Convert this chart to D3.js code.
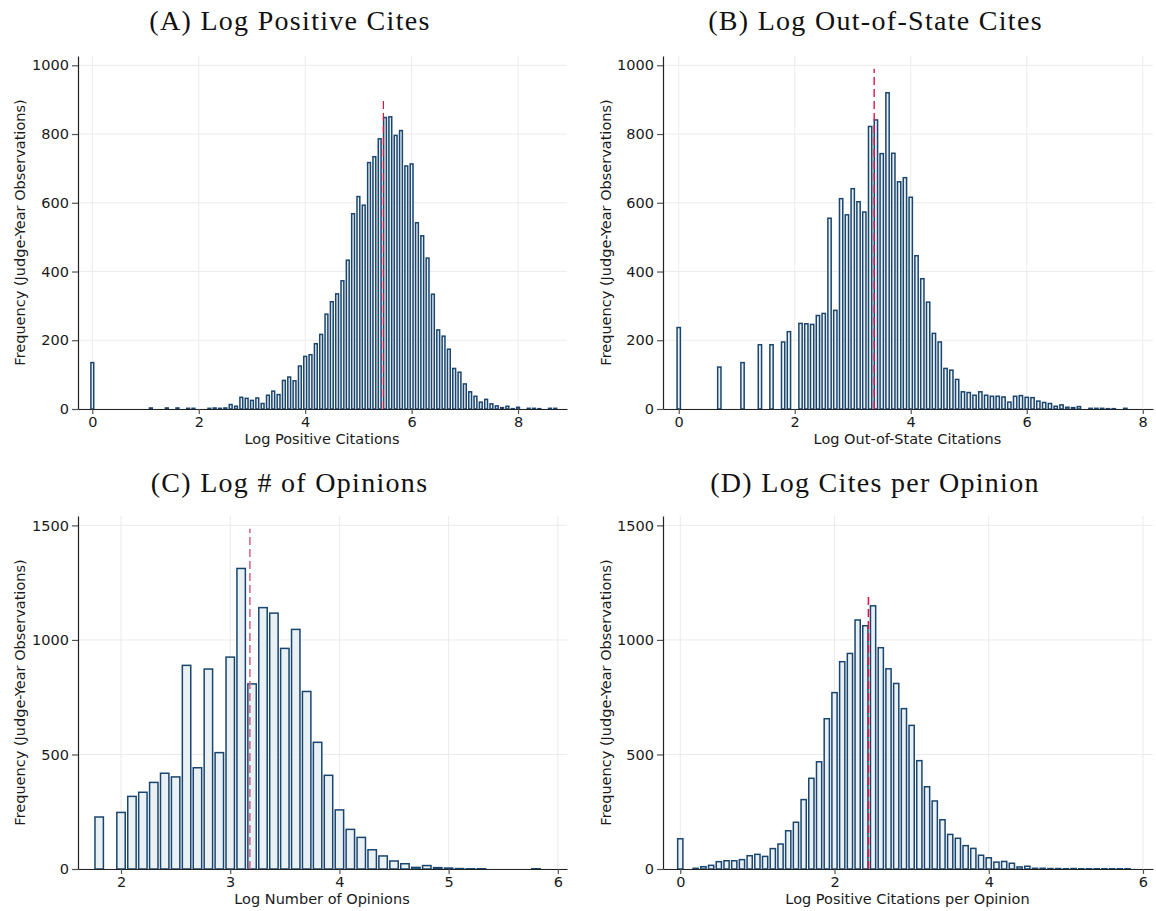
<!DOCTYPE html>
<html>
<head>
<meta charset="utf-8">
<script src="https://cdn.jsdelivr.net/npm/d3@7"></script>
<style>
  html, body { margin: 0; padding: 0; background: #fff; }
  svg { display: block; }
  .tick text { font-family: "DejaVu Sans", sans-serif; font-size: 14.5px; fill: #1a1a1a; }
</style>
</head>
<body>
<svg id="chart" width="1156" height="911"></svg>
<script>
// ---- Panel A: log positive citations (bin width 0.1) ----
const posCitesBins = [0, 1.1, 1.4, 1.6, 1.8, 1.9, 2.2, 2.3, 2.4, 2.5,
  2.6, 2.7, 2.8, 2.9, 3.0, 3.1, 3.2, 3.3, 3.4, 3.5, 3.6, 3.7, 3.8, 3.9,
  4.0, 4.1, 4.2, 4.3, 4.4, 4.5, 4.6, 4.7, 4.8, 4.9, 5.0, 5.1, 5.2, 5.3, 5.4, 5.5, 5.6, 5.7, 5.8, 5.9,
  6.0, 6.1, 6.2, 6.3, 6.4, 6.5, 6.6, 6.7, 6.8, 6.9, 7.0, 7.1, 7.2, 7.3, 7.4, 7.5, 7.6, 7.7, 7.8, 7.9,
  8.0, 8.2, 8.3, 8.4, 8.6, 8.7];
const posCitesCounts = [135, 3, 3, 3, 2, 2, 2, 3, 2, 3,
  13, 8, 34, 31, 25, 32, 16, 40, 52, 42, 83, 93, 82, 125,
  153, 158, 190, 217, 276, 312, 335, 373, 433, 568, 618, 593, 717, 734, 786, 848, 850, 796, 810, 707,
  713, 542, 504, 439, 334, 230, 212, 174, 118, 107, 73, 50, 37, 20, 28, 15, 9, 4, 8, 1,
  5, 2, 2, 1, 2, 2];

// ---- Panel B: log out-of-state citations (bin width 0.1) ----
const outStateBins = [0, 0.7, 1.1, 1.4, 1.6, 1.8, 1.9,
  2.1, 2.2, 2.3, 2.4, 2.5, 2.6, 2.7, 2.8, 2.9, 3.0, 3.1, 3.2, 3.3, 3.4, 3.5, 3.6, 3.7, 3.8, 3.9,
  4.0, 4.1, 4.2, 4.3, 4.4, 4.5, 4.6, 4.7, 4.8, 4.9, 5.0, 5.1, 5.2, 5.3, 5.4, 5.5, 5.6, 5.7, 5.8, 5.9,
  6.0, 6.1, 6.2, 6.3, 6.4, 6.5, 6.6, 6.7, 6.8, 6.9, 7.1, 7.2, 7.3, 7.4, 7.5, 7.7];
const outStateCounts = [237, 122, 135, 187, 187, 195, 225,
  249, 248, 246, 272, 278, 555, 287, 612, 565, 641, 603, 573, 822, 841, 743, 920, 744, 661, 673,
  616, 446, 379, 311, 220, 195, 118, 113, 86, 50, 48, 40, 50, 40, 37, 37, 35, 20, 37, 39,
  34, 33, 23, 19, 16, 8, 12, 5, 4, 7, 2, 2, 2, 1, 1, 2];

// ---- Panel C: log number of opinions (bin width 0.1) ----
const opinionsBins = [1.8, 2.0, 2.1, 2.2, 2.3, 2.4, 2.5, 2.6, 2.7, 2.8, 2.9,
  3.0, 3.1, 3.2, 3.3, 3.4, 3.5, 3.6, 3.7, 3.8, 3.9,
  4.0, 4.1, 4.2, 4.3, 4.4, 4.5, 4.6, 4.7, 4.8, 4.9, 5.0, 5.1, 5.2, 5.3, 5.8];
const opinionsCounts = [227, 247, 317, 335, 378, 418, 402, 889, 442, 873, 508,
  925, 1312, 808, 1141, 1117, 963, 1046, 775, 553, 409,
  258, 173, 138, 84, 57, 35, 23, 7, 15, 6, 4, 2, 1, 1, 1];

// ---- Panel D: log positive citations per opinion (bin width 0.1) ----
const perOpinionBins = [0, 0.2, 0.3, 0.4, 0.5, 0.6, 0.7, 0.8, 0.9,
  1.0, 1.1, 1.2, 1.3, 1.4, 1.5, 1.6, 1.7, 1.8, 1.9,
  2.0, 2.1, 2.2, 2.3, 2.4, 2.5, 2.6, 2.7, 2.8, 2.9,
  3.0, 3.1, 3.2, 3.3, 3.4, 3.5, 3.6, 3.7, 3.8, 3.9,
  4.0, 4.1, 4.2, 4.3, 4.4, 4.5, 4.6, 4.7, 4.8, 4.9,
  5.0, 5.1, 5.2, 5.3, 5.4, 5.5, 5.6, 5.7, 5.8];
const perOpinionCounts = [132, 3, 10, 16, 32, 36, 36, 41, 58,
  64, 55, 89, 109, 167, 204, 303, 396, 468, 656,
  770, 905, 941, 1087, 1062, 1149, 966, 874, 810, 700,
  627, 473, 359, 297, 215, 151, 134, 102, 90, 60,
  49, 30, 33, 25, 9, 12, 3, 3, 2, 2,
  1, 2, 1, 1, 1, 1, 1, 1, 1];

// Sample means (dashed reference lines) and the height each line is drawn to
const meanValues = [5.47, 3.37, 3.18, 2.44];
const meanLineTops = [900, 990, 1485, 1200];

const panelTitles = ["(A) Log Positive Cites", "(B) Log Out-of-State Cites",
                     "(C) Log # of Opinions", "(D) Log Cites per Opinion"];
const xLabels = ["Log Positive Citations", "Log Out-of-State Citations",
                 "Log Number of Opinions", "Log Positive Citations per Opinion"];
const yLabel = "Frequency (Judge-Year Observations)";
const xTicks = [[0, 2, 4, 6, 8], [0, 2, 4, 6, 8], [2, 3, 4, 5, 6], [0, 2, 4, 6]];
const yTicks = [[0, 200, 400, 600, 800, 1000], [0, 200, 400, 600, 800, 1000],
                [0, 500, 1000, 1500], [0, 500, 1000, 1500]];
const binWidth = 0.1;

// Layout of the four panels
const panels = [
  { bins: posCitesBins, counts: posCitesCounts, xDom: [-0.269, 8.92], yMax: 1027,
    left: 78, right: 567, top: 56, base: 409, titleX: 290, titleY: 30, labelX: 20, dashColor: "#d0173f", dashW: 1.2 },
  { bins: outStateBins, counts: outStateCounts, xDom: [-0.271, 8.177], yMax: 1027,
    left: 663, right: 1153, top: 56, base: 409, titleX: 875.5, titleY: 30, labelX: 606, dashColor: "#e0174a", dashW: 1.4 },
  { bins: opinionsBins, counts: opinionsCounts, xDom: [1.606, 6.084], yMax: 1541,
    left: 78, right: 567, top: 516, base: 869, titleX: 289.5, titleY: 492, labelX: 20, dashColor: "#d9698a", dashW: 1.6 },
  { bins: perOpinionBins, counts: perOpinionCounts, xDom: [-0.224, 6.13], yMax: 1541,
    left: 663, right: 1153, top: 516, base: 869, titleX: 875, titleY: 492, labelX: 606, dashColor: "#e0174a", dashW: 1.6 }
];

const svg = d3.select("#chart");
const barFill = "#e9f1f4";
const barStroke = "#1a456e";
const barStrokeW = 1.5;

panels.forEach((p, i) => {
  const x = d3.scaleLinear().domain(p.xDom).range([p.left, p.right]);
  const y = d3.scaleLinear().domain([0, p.yMax]).range([p.base, p.top]);
  const g = svg.append("g");

  // grid
  g.append("g").selectAll("line.gx").data(xTicks[i]).join("line")
    .attr("x1", d => x(d)).attr("x2", d => x(d))
    .attr("y1", p.top).attr("y2", p.base)
    .attr("stroke", "#ebebeb").attr("stroke-width", 1);
  g.append("g").selectAll("line.gy").data(yTicks[i]).join("line")
    .attr("x1", p.left).attr("x2", p.right)
    .attr("y1", d => y(d)).attr("y2", d => y(d))
    .attr("stroke", "#ebebeb").attr("stroke-width", 1);

  // bars
  const outer = x(binWidth) - x(0) - 1;
  const data = p.bins.map((b, k) => ({ b, c: p.counts[k] }));
  g.append("g").selectAll("rect").data(data).join("rect")
    .attr("x", d => x(d.b) - outer / 2 + barStrokeW / 2)
    .attr("width", outer - barStrokeW)
    .attr("y", d => y(d.c))
    .attr("height", d => Math.max(0, y(0) - y(d.c)))
    .attr("fill", barFill)
    .attr("stroke", barStroke)
    .attr("stroke-width", barStrokeW);

  // mean line
  g.append("line")
    .attr("x1", x(meanValues[i])).attr("x2", x(meanValues[i]))
    .attr("y1", y(0)).attr("y2", y(meanLineTops[i]))
    .attr("stroke", p.dashColor).attr("stroke-width", p.dashW)
    .attr("stroke-dasharray", "8,4");

  // axes
  const xa = g.append("g").attr("transform", `translate(0,${p.base})`)
    .call(d3.axisBottom(x).tickValues(xTicks[i]).tickFormat(d3.format("d"))
      .tickSize(5).tickSizeOuter(0).tickPadding(3));
  xa.select(".domain").attr("stroke", "#222").attr("stroke-width", 1.2);
  xa.selectAll(".tick line").attr("stroke", "#555").attr("stroke-width", 1.2);

  const ya = g.append("g").attr("transform", `translate(${p.left},0)`)
    .call(d3.axisLeft(y).tickValues(yTicks[i]).tickFormat(d3.format("d"))
      .tickSize(6).tickSizeOuter(0).tickPadding(3));
  ya.select(".domain").attr("stroke", "#222").attr("stroke-width", 1.2);
  ya.selectAll(".tick line").attr("stroke", "#555").attr("stroke-width", 1.2);

  // labels
  g.append("text")
    .attr("x", (p.left + p.right) / 2 - 0.5).attr("y", p.base + 35)
    .attr("text-anchor", "middle")
    .style("font-family", "DejaVu Sans, sans-serif").style("font-size", "14.5px").attr("fill", "#1a1a1a")
    .text(xLabels[i]);
  g.append("text")
    .attr("transform", `translate(${p.labelX},${(p.top + p.base) / 2}) rotate(-90)`)
    .attr("text-anchor", "middle").attr("dy", "0.35em")
    .style("font-family", "DejaVu Sans, sans-serif").style("font-size", "14.5px").attr("fill", "#1a1a1a")
    .text(yLabel);
  g.append("text")
    .attr("x", p.titleX).attr("y", p.titleY)
    .attr("text-anchor", "middle")
    .style("font-family", "Liberation Serif, serif").style("font-size", "28px")
    .style("letter-spacing", "1.3px").attr("fill", "#111")
    .text(panelTitles[i]);
});
</script>
</body>
</html>
